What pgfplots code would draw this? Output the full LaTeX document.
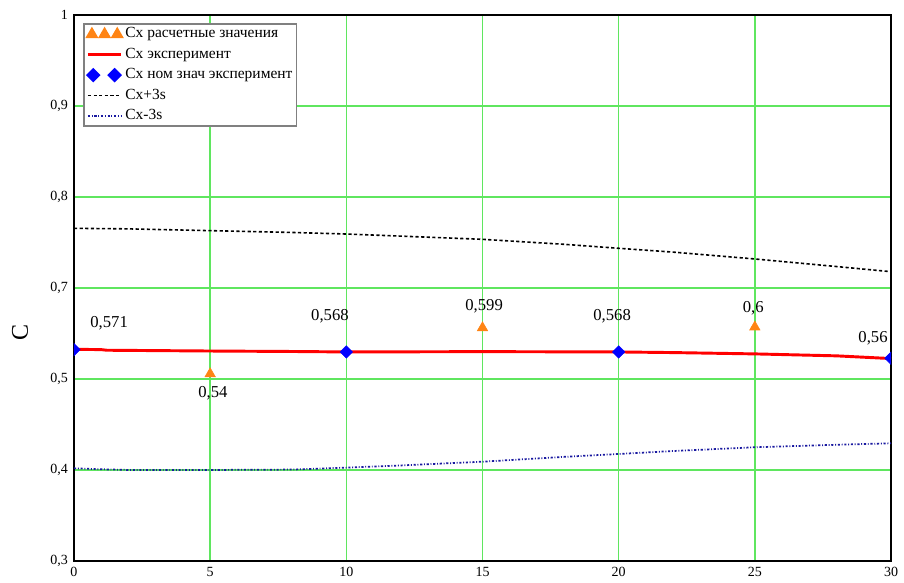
\documentclass[border=0pt]{standalone}
\usepackage{fontspec}
\setmainfont{Liberation Serif}
\usepackage{pgfplots}
\pgfplotsset{compat=1.18}

\definecolor{gridgreen}{RGB}{95,230,95}
\definecolor{mkorange}{RGB}{255,132,20}
\definecolor{dashblue}{RGB}{25,25,160}

\pgfplotsset{
  leg three/.style={legend image code/.code={\draw[##1] plot coordinates {(3pt,0pt) (12.5pt,0pt) (22pt,0pt)};}},
  leg two/.style={legend image code/.code={\draw[##1] plot coordinates {(4pt,0pt) (20pt,0pt)};}},
  leg line/.style={legend image code/.code={\draw[##1] (0pt,0pt) -- (25pt,0pt);}},
}

\begin{document}
\begin{tikzpicture}
\begin{axis}[
  name=ax,
  scale only axis,
  width=612.75pt, height=409.5pt,
  xmin=0, xmax=30, ymin=0.3, ymax=1,
  xtick={0,5,10,15,20,25,30},
  xticklabels={0,5,10,15,20,25,30},
  ytick={0.3,0.416667,0.533333,0.65,0.766667,0.883333,1},
  yticklabels={{0,3},{0,4},{0,5},{0,7},{0,8},{0,9},1},
  grid=major,
  major grid style={gridgreen, line width=1.1pt},
  major tick length=0pt,
  axis line style={black, line width=0.9pt},
  tick label style={font=\fontsize{10.5}{12}\selectfont},
  xticklabel style={yshift=-1pt},
  yticklabel style={xshift=-1pt},
  ylabel={C},
  ylabel style={at={(axis description cs:-0.066,0.419)}, anchor=center,
    font=\fontsize{18}{20}\selectfont},
  clip marker paths=true,
  legend cell align=left,
  legend style={
    at={(axis description cs:0.011,0.985)}, anchor=north west,
    draw=gray, line width=1.2pt,
    font=\fontsize{11.6}{13}\selectfont,
    nodes={inner sep=1pt, text height=8pt, text depth=2.5pt},
    row sep=2.8pt, column sep=1pt, inner xsep=2pt, inner ysep=1.5pt,
  },
]

% Cx расчетные значения
\addplot[only marks, mark=triangle*, color=mkorange, mark size=4.5pt, leg three]
  coordinates {(5,0.54) (15,0.599) (25,0.6)};
\addlegendentry{Cx расчетные значения}

% Cx эксперимент
\addplot[red, line width=2.2pt, leg line]
  coordinates {
  (0,0.5714) (1,0.5710) (1.2,0.5702) (5,0.5692) (8,0.5686) (10,0.5680)
  (15,0.5684) (20,0.5680) (22,0.5672) (25,0.5655) (28,0.5630) (30,0.5595)
  };
\addlegendentry{Cx эксперимент}

% Cx ном знач эксперимент
\addplot[only marks, mark=square*, color=blue, mark size=3.3pt,
  mark options={rotate=45}, leg two]
  coordinates {(0,0.571) (10,0.568) (20,0.568) (30,0.56)};
\addlegendentry{Cx ном знач эксперимент}

% Cx+3s
\addplot[black, line width=1.2pt, dash pattern=on 2.4pt off 1.8pt, leg line]
  coordinates {
  (0,0.7265) (2,0.7258) (5,0.7235) (8,0.7212) (10,0.7192) (12,0.7165)
  (15,0.7124) (18,0.7060) (20,0.7009) (22,0.6960) (25,0.6872) (28,0.6775)
  (30,0.6709)
  };
\addlegendentry{Cx+3s}

% Cx-3s
\addplot[dashblue, line width=1.3pt, dash pattern=on 1.6pt off 1.3pt on 0.7pt off 1.3pt, leg line]
  coordinates {
  (0,0.4188) (1,0.4176) (2,0.4167) (5,0.4167) (8,0.4172) (10,0.4197)
  (12,0.4225) (15,0.4273) (18,0.4335) (20,0.4372) (22,0.4410) (25,0.4458)
  (28,0.4490) (30,0.4509)
  };
\addlegendentry{Cx-3s}

% value labels
\begin{scope}[font=\fontsize{12.5}{14}\selectfont]
\node at (axis cs:1.29,0.605) {0,571};
\node at (axis cs:5.10,0.515) {0,54};
\node at (axis cs:9.40,0.614) {0,568};
\node at (axis cs:15.06,0.626) {0,599};
\node at (axis cs:19.76,0.614) {0,568};
\node at (axis cs:24.94,0.624) {0,6};
\node at (axis cs:29.34,0.586) {0,56};
\end{scope}

\end{axis}
\pgfresetboundingbox
\path ([shift={(-55.5pt,-16.5pt)}]ax.south west) rectangle ([shift={(9.75pt,11.25pt)}]ax.north east);
\end{tikzpicture}
\end{document}
